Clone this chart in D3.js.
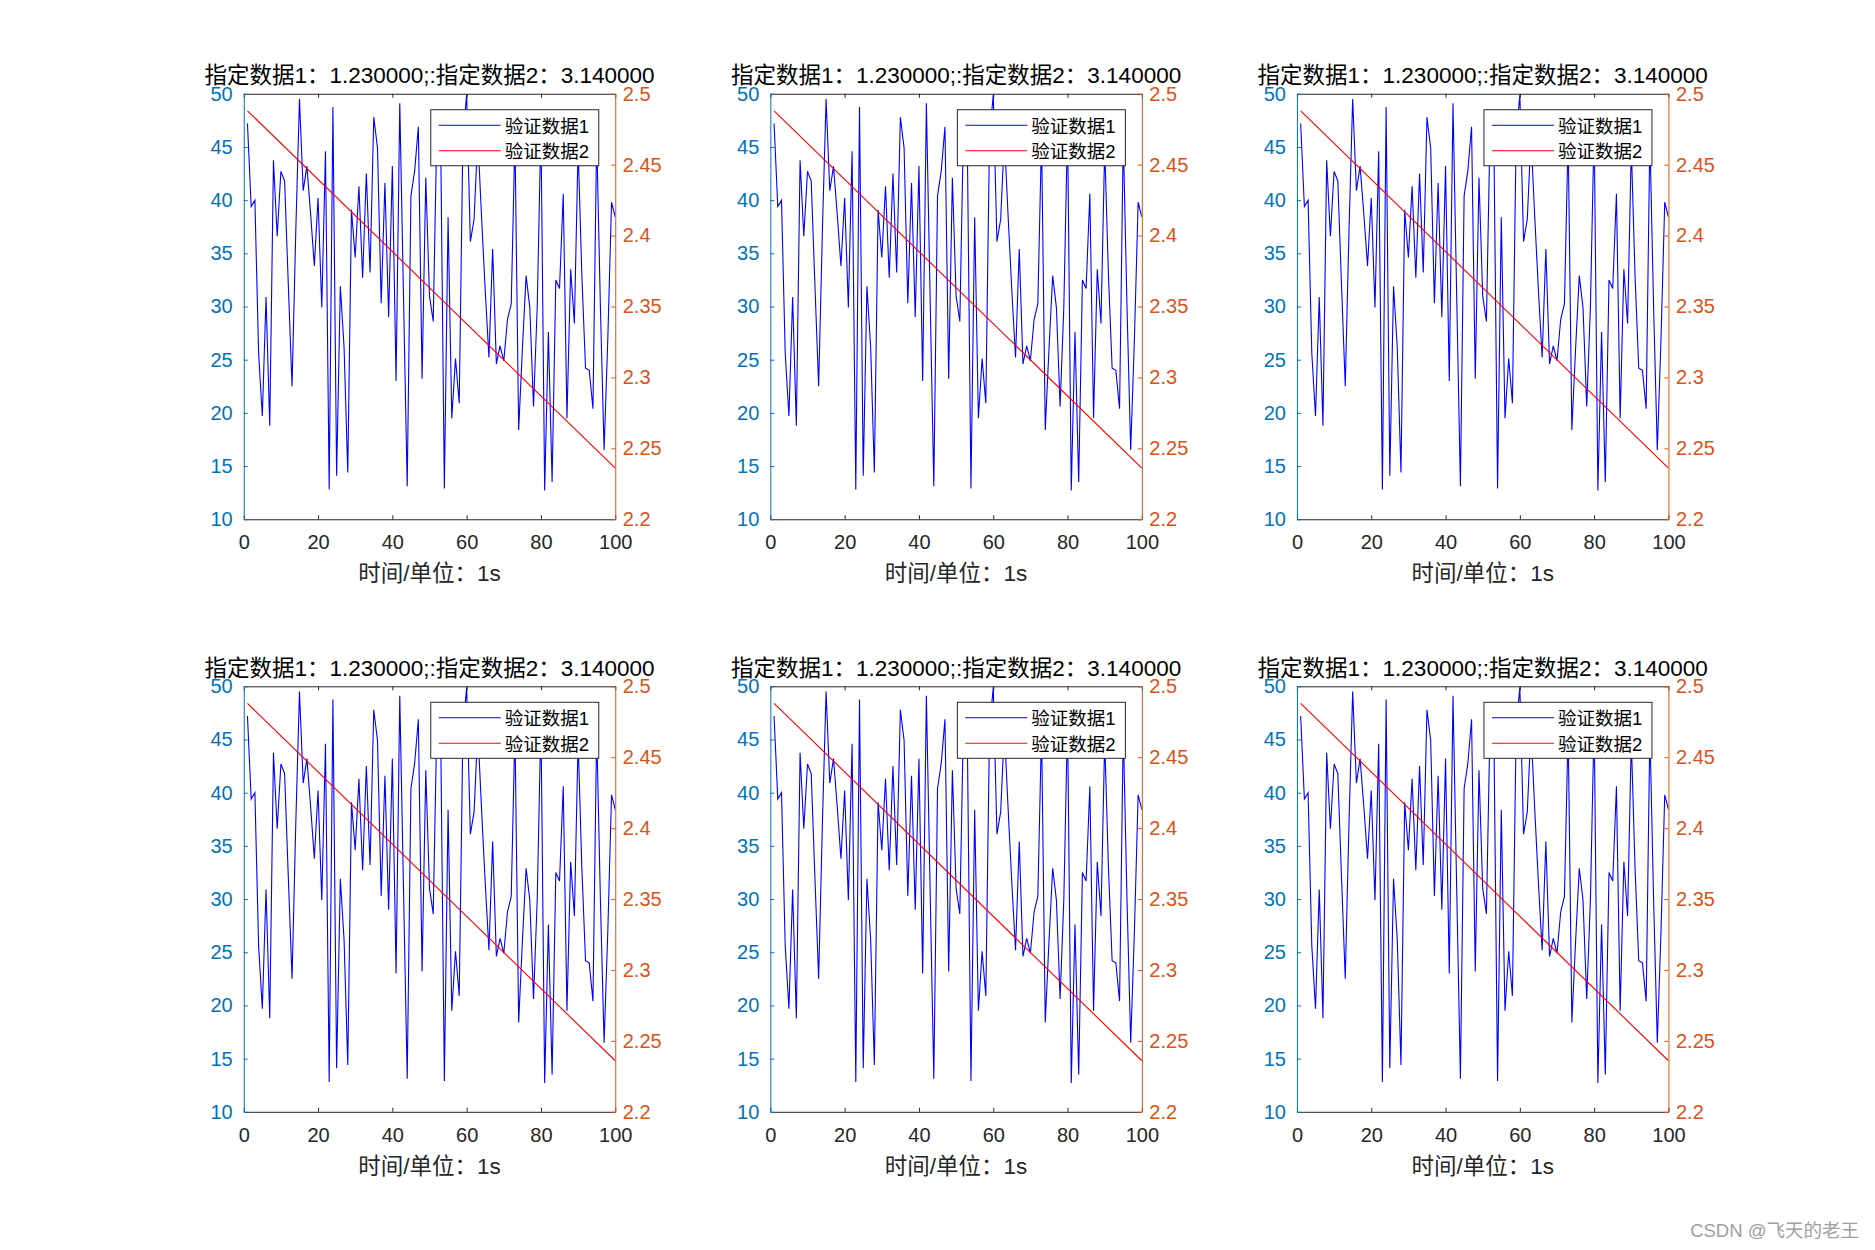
<!DOCTYPE html>
<html>
<head>
<meta charset="utf-8">
<script src="https://cdn.jsdelivr.net/npm/d3@7"></script>
<style>
  html, body { margin: 0; padding: 0; background: #fff; }
  svg { display: block; }
  text { font-family: "Liberation Sans", Arial, "Noto Sans CJK SC", sans-serif; }
</style>
</head>
<body>
<svg id="chart" width="1875" height="1250"></svg>
<script>
// ---------------- data ----------------
const titleText = "指定数据1：1.230000;:指定数据2：3.140000";
const xLabelText = "时间/单位：1s";
const seriesNames = ["验证数据1", "验证数据2"];
const watermark = "CSDN @飞天的老王";

const xTicks = [0, 20, 40, 60, 80, 100];
const yLeftTicks = [10, 15, 20, 25, 30, 35, 40, 45, 50];
const yRightTicks = [2.2, 2.25, 2.3, 2.35, 2.4, 2.45, 2.5];
const yRightTickLabels = ["2.2", "2.25", "2.3", "2.35", "2.4", "2.45", "2.5"];

// blue series, x = 1..100
const series1X = d3.range(1, 101);
const series1Y = [
  47.2, 39.4, 40.0, 25.6, 19.7, 30.9, 18.8, 43.75, 36.6, 42.7,
  41.8, 32.0, 22.5, 37.0, 49.5, 40.9, 43.2, 38.7, 33.8, 40.2,
  29.9, 44.6, 12.8, 48.75, 14.1, 31.9, 26.2, 14.4, 39.1, 34.6,
  41.3, 32.7, 42.5, 33.2, 47.8, 44.9, 30.3, 41.6, 29.0, 43.2,
  23.0, 49.1, 31.0, 13.1, 40.4, 42.75, 46.9, 23.2, 42.1, 31.0,
  28.6, 47.0, 46.0, 12.9, 38.4, 19.5, 25.1, 20.9, 46.0, 49.9,
  36.1, 38.2, 46.0, 38.5, 31.5, 25.2, 35.4, 24.6, 26.3, 24.9,
  28.8, 30.25, 46.0, 18.4, 26.0, 32.9, 29.9, 20.6, 30.0, 47.0,
  12.7, 27.6, 13.5, 32.5, 31.7, 40.6, 19.5, 33.5, 28.4, 45.0,
  33.0, 24.2, 24.0, 20.4, 46.0, 30.0, 16.5, 27.0, 39.8, 38.4
];
// red series (straight line, endpoints)
const series2X = [1, 100];
const series2Y = [2.488, 2.236];

// ---------------- layout ----------------
const W = 1875, H = 1250;
const panelW = 371.5, panelH = 425.5;
const colLefts = [243.75, 770.35, 1296.95];
const rowTops = [93.75, 686.3];

const colLeftAxis = "#0072BD";
const colRightAxis = "#D95319";
const colAxis = "#262626";
const colBlue = "#0000FF";
const colRed = "#FF0000";
const tickFont = 20, titleFont = 22.5, legendFont = 18.5;
const latinFamily = "'Liberation Sans', Arial, sans-serif";

const svg = d3.select("#chart");
svg.append("rect").attr("width", W).attr("height", H).attr("fill", "#fff");

let pid = 0;
rowTops.forEach(top => {
  colLefts.forEach(left => {
    pid++;
    const x = d3.scaleLinear().domain([0, 100]).range([left, left + panelW]);
    const yL = d3.scaleLinear().domain([10, 50]).range([top + panelH, top]);
    const yR = d3.scaleLinear().domain([2.2, 2.5]).range([top + panelH, top]);
    const right = left + panelW, bottom = top + panelH;

    const g = svg.append("g");
    const clipId = "clip" + pid;
    g.append("clipPath").attr("id", clipId)
      .append("rect").attr("x", left).attr("y", top).attr("width", panelW).attr("height", panelH);

    // data lines
    const lineL = d3.line().x((d, i) => x(series1X[i])).y(d => yL(d));
    const lineR = d3.line().x((d, i) => x(series2X[i])).y(d => yR(d));
    const plot = g.append("g").attr("clip-path", `url(#${clipId})`);
    plot.append("path").attr("d", lineL(series1Y))
      .attr("fill", "none").attr("stroke", colBlue).attr("stroke-width", 1.1);
    plot.append("path").attr("d", lineR(series2Y))
      .attr("fill", "none").attr("stroke", colRed).attr("stroke-width", 1.1);

    // bottom axis
    const xAxisB = d3.axisBottom(x).tickValues(xTicks).tickSizeInner(-4).tickSizeOuter(0).tickPadding(16);
    const gxb = g.append("g").attr("transform", `translate(0,${bottom})`).call(xAxisB);
    gxb.select(".domain").attr("stroke", colAxis).attr("stroke-width", 1);
    gxb.selectAll(".tick line").attr("stroke", colAxis);
    gxb.selectAll(".tick text").attr("fill", colAxis).attr("font-size", tickFont)
      .attr("font-family", latinFamily);
    // top axis
    const xAxisT = d3.axisTop(x).tickValues(xTicks).tickSizeInner(-4).tickSizeOuter(0).tickFormat("");
    const gxt = g.append("g").attr("transform", `translate(0,${top})`).call(xAxisT);
    gxt.select(".domain").attr("stroke", colAxis).attr("stroke-width", 1);
    gxt.selectAll(".tick line").attr("stroke", colAxis);

    // left axis
    const yAxisL = d3.axisLeft(yL).tickValues(yLeftTicks).tickSizeInner(-4).tickSizeOuter(0).tickPadding(11);
    const gyl = g.append("g").attr("transform", `translate(${left},0)`).call(yAxisL);
    gyl.select(".domain").attr("stroke", colLeftAxis).attr("stroke-width", 1);
    gyl.selectAll(".tick line").attr("stroke", colLeftAxis);
    gyl.selectAll(".tick text").attr("fill", colLeftAxis).attr("font-size", tickFont)
      .attr("font-family", latinFamily);

    // right axis
    const yAxisR = d3.axisRight(yR).tickValues(yRightTicks).tickSizeInner(-4).tickSizeOuter(0).tickPadding(7.5)
      .tickFormat((d, i) => yRightTickLabels[i]);
    const gyr = g.append("g").attr("transform", `translate(${right},0)`).call(yAxisR);
    gyr.select(".domain").attr("stroke", colRightAxis).attr("stroke-width", 1);
    gyr.selectAll(".tick line").attr("stroke", colRightAxis);
    gyr.selectAll(".tick text").attr("fill", colRightAxis).attr("font-size", tickFont)
      .attr("font-family", latinFamily);

    // title
    g.append("text").attr("x", (left + right) / 2).attr("y", top - 10.5)
      .attr("text-anchor", "middle").attr("font-size", titleFont).attr("fill", "#000")
      .text(titleText);

    // x label
    g.append("text").attr("x", (left + right) / 2).attr("y", bottom + 62)
      .attr("text-anchor", "middle").attr("font-size", titleFont).attr("fill", colAxis)
      .text(xLabelText);

    // legend
    const lgX = right - 184.5, lgY = top + 16, lgW = 168, lgH = 56;
    const lg = g.append("g");
    lg.append("rect").attr("x", lgX).attr("y", lgY).attr("width", lgW).attr("height", lgH)
      .attr("fill", "#fff").attr("stroke", colAxis).attr("stroke-width", 1);
    [colBlue, colRed].forEach((c, i) => {
      const ly = lgY + 15.5 + i * 25.5;
      lg.append("line").attr("x1", lgX + 8).attr("x2", lgX + 70).attr("y1", ly).attr("y2", ly)
        .attr("stroke", c).attr("stroke-width", 1.1);
      lg.append("text").attr("x", lgX + 74).attr("y", ly + 7.3)
        .attr("font-size", legendFont).attr("fill", "#000").text(seriesNames[i]);
    });
  });
});

// watermark
svg.append("text").attr("x", 1859).attr("y", 1237).attr("text-anchor", "end")
  .attr("font-size", 18.5).attr("fill", "#a0a0a0").text(watermark);
</script>
</body>
</html>
